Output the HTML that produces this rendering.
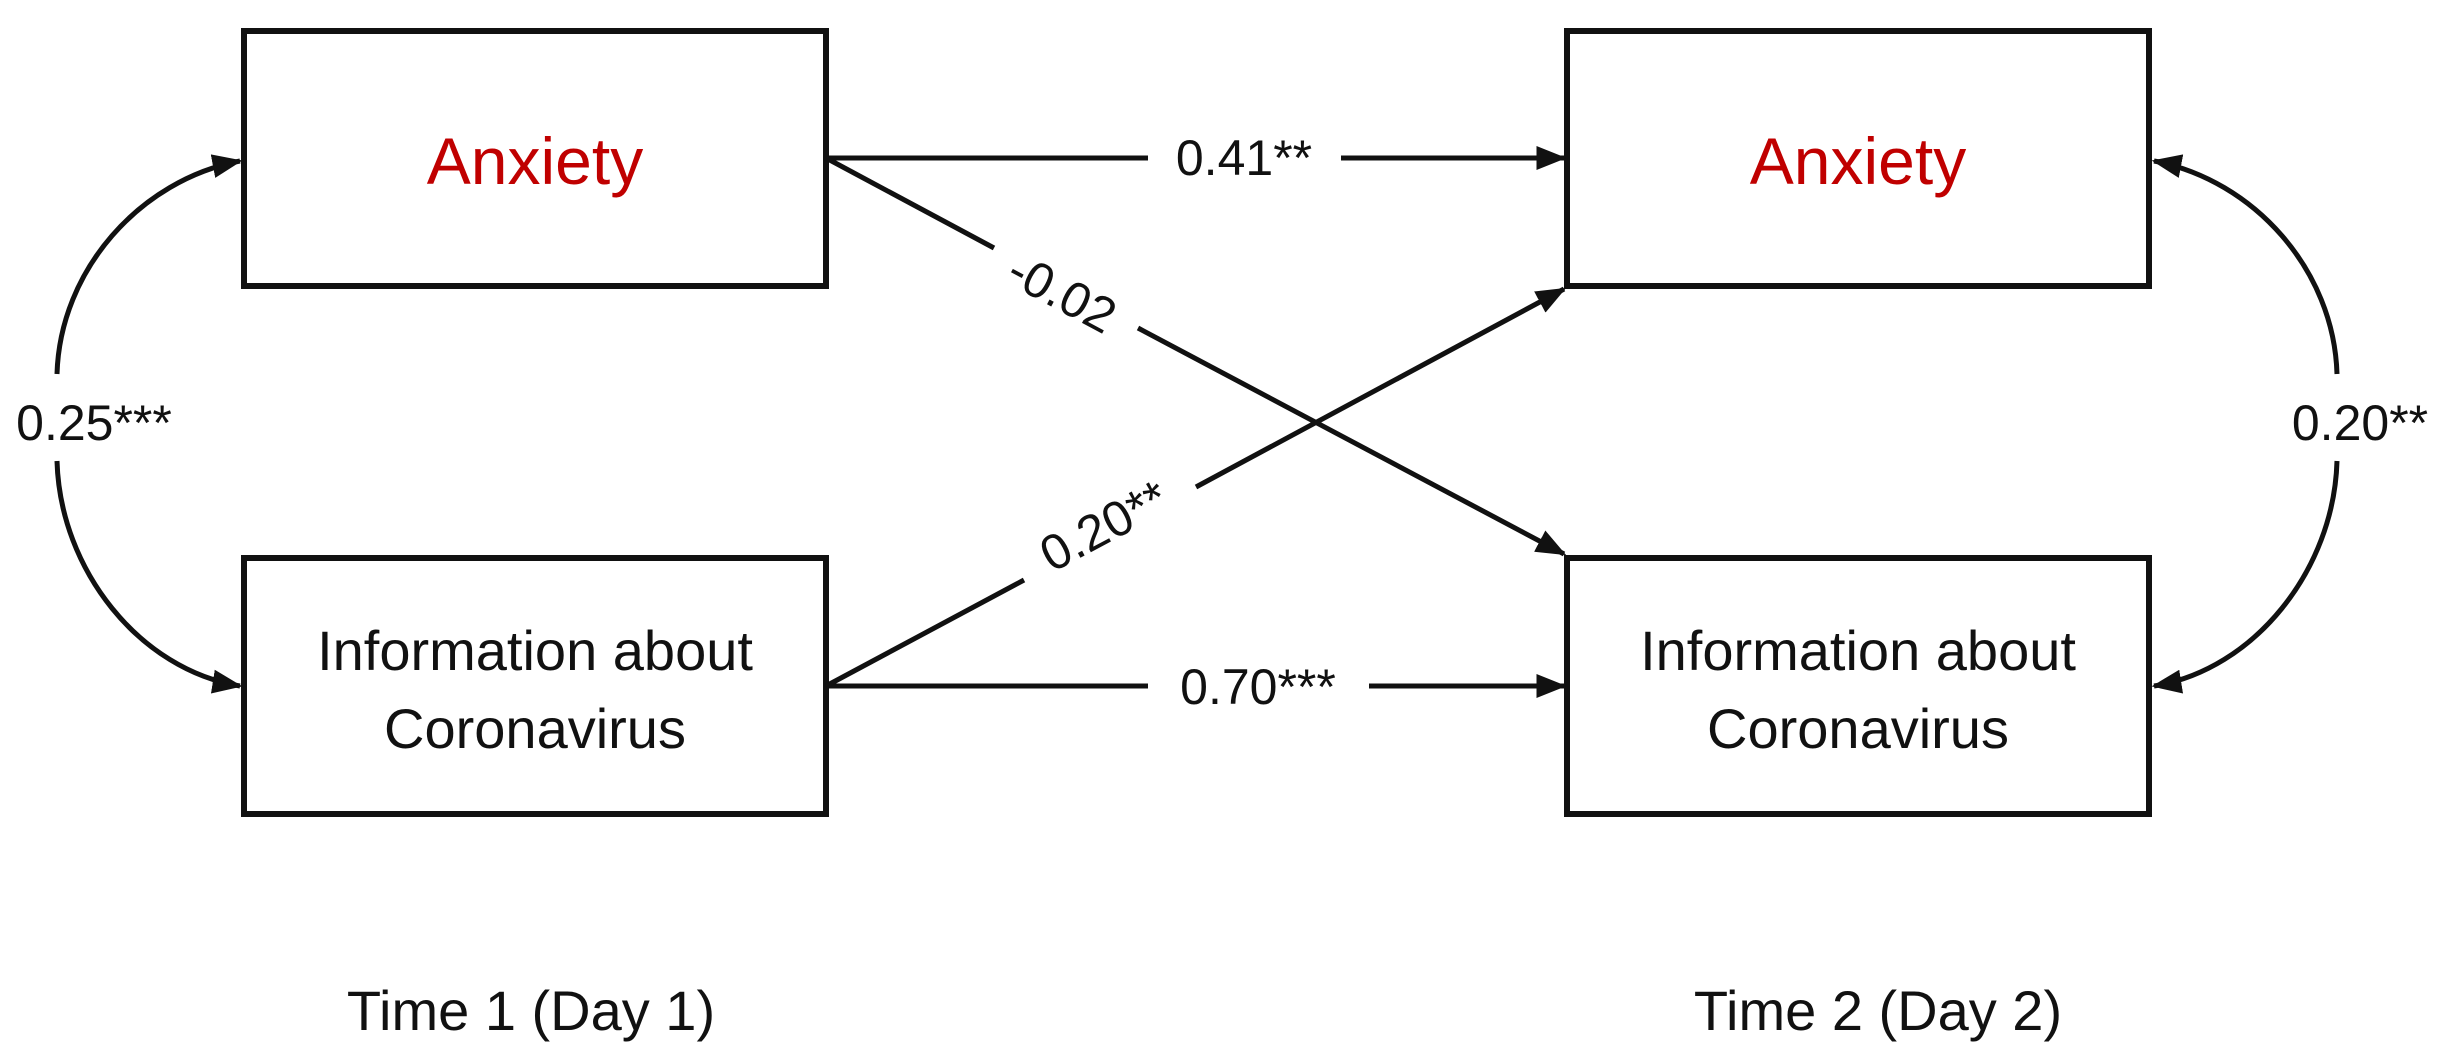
<!DOCTYPE html>
<html><head><meta charset="utf-8"><style>html,body{margin:0;padding:0;background:#fff;}svg{display:block}</style></head>
<body>
<svg width="2444" height="1063" viewBox="0 0 2444 1063" xmlns="http://www.w3.org/2000/svg" font-family="'Liberation Sans', sans-serif">
<defs>
<marker id="ah" markerWidth="6" markerHeight="6" refX="5.5" refY="3" orient="auto" markerUnits="strokeWidth">
<path d="M0,0.6 L6,3 L0,5.4 z" fill="#111"/>
</marker>
</defs>
<g fill="none" stroke="#111" stroke-width="6">
<rect x="244" y="31" width="582" height="255"/>
<rect x="244" y="558" width="582" height="256"/>
<rect x="1567" y="31" width="582" height="255"/>
<rect x="1567" y="558" width="582" height="256"/>
</g>
<g stroke="#111" stroke-width="5" fill="none">
<line x1="826" y1="158" x2="1148" y2="158"/>
<line x1="1341" y1="158" x2="1564" y2="158" marker-end="url(#ah)"/>
<line x1="826" y1="686" x2="1148" y2="686"/>
<line x1="1369" y1="686" x2="1564" y2="686" marker-end="url(#ah)"/>
<line x1="826" y1="158" x2="994" y2="248"/>
<line x1="1138" y1="328" x2="1564" y2="554" marker-end="url(#ah)"/>
<line x1="826" y1="686" x2="1024" y2="580"/>
<line x1="1196" y1="487" x2="1564" y2="289" marker-end="url(#ah)"/>
<path d="M57,374 C60,270 140,180 240,161" marker-end="url(#ah)"/>
<path d="M57,461 C60,570 140,670 240,686" marker-end="url(#ah)"/>
<path d="M2337,374 C2334,270 2254,180 2154,161" marker-end="url(#ah)"/>
<path d="M2337,461 C2334,570 2254,670 2154,686" marker-end="url(#ah)"/>
</g>
<g fill="#c00000" font-size="66" text-anchor="middle">
<text x="535" y="184">Anxiety</text>
<text x="1858" y="184">Anxiety</text>
</g>
<g fill="#111" font-size="56" text-anchor="middle">
<text x="535" y="670">Information about</text>
<text x="535" y="748">Coronavirus</text>
<text x="1858" y="670">Information about</text>
<text x="1858" y="748">Coronavirus</text>
<text x="531" y="1030">Time 1 (Day 1)</text>
<text x="1878" y="1030">Time 2 (Day 2)</text>
</g>
<g fill="#111" font-size="50" text-anchor="middle">
<text x="1244" y="175">0.41**</text>
<text x="1258" y="704">0.70***</text>
<text x="94" y="440">0.25***</text>
<text x="2360" y="440">0.20**</text>
<g transform="translate(1062,293) rotate(28)"><text x="0" y="17">-0.02</text></g>
<g transform="translate(1104,526) rotate(-28)"><text x="0" y="17">0.20**</text></g>
</g>
</svg>
</body></html>
